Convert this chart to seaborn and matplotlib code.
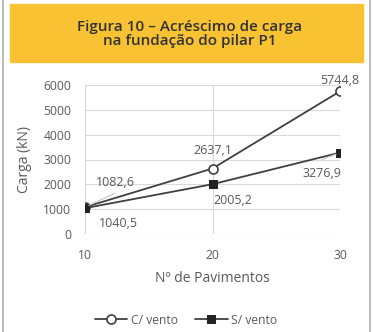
import matplotlib
matplotlib.use('Agg')
import matplotlib.pyplot as plt
import seaborn as sns
import pandas as pd
from matplotlib.patches import Rectangle
from matplotlib.lines import Line2D

# dados
pavimentos = [10, 20, 30]
carga_c_vento = [1082.6, 2637.1, 5744.8]
carga_s_vento = [1040.5, 2005.2, 3276.9]
rotulos_c = ['1082,6', '2637,1', '5744,8']
rotulos_s = ['1040,5', '2005,2', '3276,9']

sns.set_style('white')
plt.rcParams['font.family'] = ['Open Sans', 'DejaVu Sans']

cinza_txt = '#595959'
cinza_lin = '#404040'

fig = plt.figure(figsize=(3.73, 3.32), dpi=100)

# moldura e faixa do titulo
fig.add_artist(Line2D([3/373, 3/373], [0, 1], color='#b0b0b0', lw=1.2, transform=fig.transFigure))
fig.add_artist(Line2D([370/373, 370/373], [0, 1], color='#b0b0b0', lw=1.2, transform=fig.transFigure))
fig.add_artist(Rectangle((10/373, 1 - 62/332), 353/373, 58/332, color='#F9C232', transform=fig.transFigure))
fig.text(190/373, 1 - 34/332, 'Figura 10 – Acréscimo de carga\nna fundação do pilar P1',
         ha='center', va='center', fontsize=11, color='#333333', family='Open Sans',
         weight='semibold', linespacing=1.05)

ax = fig.add_axes([85/373, 1 - 234/332, 255/373, 149/332])

df = pd.DataFrame({'pav': pavimentos, 'c': carga_c_vento, 's': carga_s_vento})
sns.lineplot(data=df, x='pav', y='c', ax=ax, color=cinza_lin, lw=1.3, marker='o', ms=6.5,
             mfc='white', mec=cinza_lin, mew=1.2, label='C/ vento', zorder=3)
sns.lineplot(data=df, x='pav', y='s', ax=ax, color=cinza_lin, lw=1.3, marker='s', ms=5.5,
             mfc='#222222', mec='#222222', label='S/ vento', zorder=3)

ax.set_xlim(10, 30)
ax.set_ylim(0, 6000)
ax.set_xticks(pavimentos)
ax.set_yticks(range(0, 6001, 1000))
ax.grid(True, color='#d9d9d9', lw=0.8)
for s in ax.spines.values():
    s.set_visible(False)
ax.tick_params(axis='y', length=0, labelsize=8.7, labelcolor=cinza_txt, pad=10)
ax.tick_params(axis='x', length=0, labelsize=8.7, labelcolor=cinza_txt, pad=11)
ax.set_xlabel('Nº de Pavimentos', fontsize=10, color=cinza_txt, labelpad=6)
ax.set_ylabel('Carga (kN)', fontsize=10, color=cinza_txt, labelpad=8)
ax.set_axisbelow(True)

# rotulos
desl_c = [(22, 18), (0, 13), (0, 8)]
desl_s = [(24, -11), (15, -11.5), (-13, -14.7)]
for x, y, t, d in zip(pavimentos, carga_c_vento, rotulos_c, desl_c):
    ax.annotate(t, (x, y), xytext=d, textcoords='offset points', ha='center', va='center',
                fontsize=9, color=cinza_txt)
for x, y, t, d in zip(pavimentos, carga_s_vento, rotulos_s, desl_s):
    ax.annotate(t, (x, y), xytext=d, textcoords='offset points', ha='center', va='center',
                fontsize=9, color=cinza_txt)
# linhas guia
ax.annotate('', (10, 1082.6), xytext=(21.6, 10), textcoords='offset points',
            arrowprops=dict(arrowstyle='-', color='#c8c8c8', lw=0.8, shrinkA=0, shrinkB=3))
ax.annotate('', (30, 3276.9), xytext=(-13, -5), textcoords='offset points',
            arrowprops=dict(arrowstyle='-', color='#c8c8c8', lw=0.8, shrinkA=0, shrinkB=3))

ax.legend(loc='center', bbox_to_anchor=(186/373, 1 - 320/332), bbox_transform=fig.transFigure,
          ncol=2, frameon=False, fontsize=8.7, labelcolor=cinza_txt, handlelength=2.7,
          columnspacing=1.4, handletextpad=0.3)

fig.savefig('out.png', dpi=100)
